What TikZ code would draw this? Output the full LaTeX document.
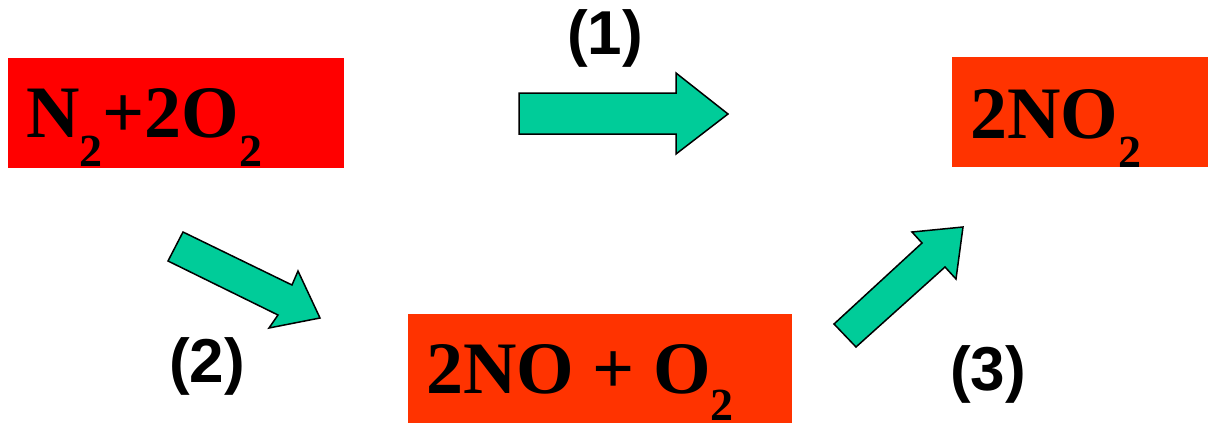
\documentclass[tikz,border=0pt]{standalone}
\usepackage{fontspec}
\setmainfont{Liberation Serif}
\newfontfamily\labfont{Liberation Sans}
\definecolor{boxred}{HTML}{FF0000}
\definecolor{boxorange}{HTML}{FF3300}
\definecolor{arrowgreen}{HTML}{00CC99}
\newcommand\subtwo[2][29pt]{\raisebox{-#1}{\fontsize{46}{46}\selectfont\bfseries #2}}
\begin{document}
\begin{tikzpicture}[x=1pt,y=-1pt,
  chembox/.style={draw=none,inner sep=0pt,rectangle},
  chemtext/.style={inner sep=0pt,anchor=base west,font=\fontsize{74}{74}\selectfont\bfseries},
  steplabel/.style={inner sep=0pt,font=\labfont\fontsize{62}{62}\selectfont\bfseries},
  blockarrow/.style={fill=arrowgreen,draw=black,line width=1.5pt,line join=miter}]
\useasboundingbox (0,0) rectangle (1208,423);
% boxes
\node[chembox,fill=boxred,minimum width=336pt,minimum height=110pt] (b1) at (176,113) {};
\node[chembox,fill=boxorange,minimum width=256pt,minimum height=110pt] (b2) at (1080,112) {};
\node[chembox,fill=boxorange,minimum width=384pt,minimum height=109pt] (b3) at (600,368.5) {};
% texts
\node[chemtext] (t1) at (26,137) {N\subtwo{2}+2O\subtwo{2}};
\node[chemtext] (t2) at (970,138) {2NO\subtwo{2}};
\node[chemtext] (t3) at (426,393) {2NO + O\subtwo[27pt]{2}};
% arrows
\draw[blockarrow] (519,93) -- (676,93) -- (676,73) -- (728,114) -- (676,154) -- (676,134) -- (519,134) -- cycle;
\draw[blockarrow] (183,232) -- (168,261) -- (278,315) -- (269,328) -- (320,318) -- (298,271) -- (292,285) -- cycle;
\draw[blockarrow] (834,324) -- (856,347) -- (945,267) -- (956,279) -- (963,227) -- (912,232) -- (922,243) -- cycle;
% labels
\node[steplabel] (l1) at (605,38) {(1)};
\node[steplabel] (l2) at (207,366) {(2)};
\node[steplabel] (l3) at (988,374) {(3)};
\end{tikzpicture}
\end{document}
